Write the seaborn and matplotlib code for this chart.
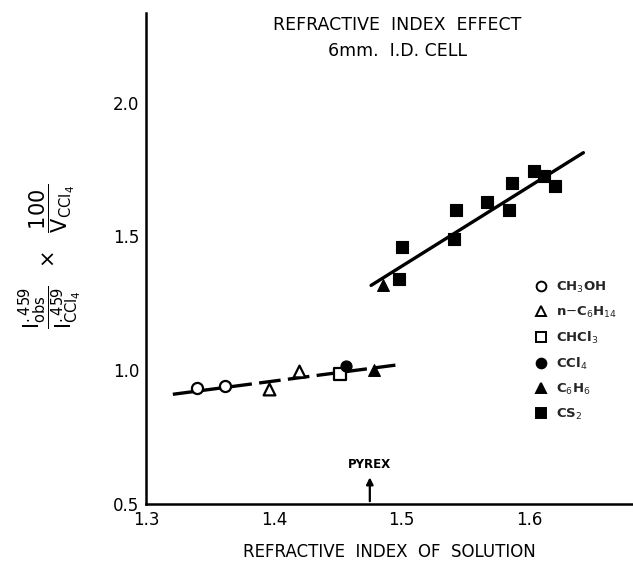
import matplotlib
matplotlib.use("Agg")
import matplotlib.pyplot as plt
import seaborn as sns
import pandas as pd
from matplotlib.lines import Line2D

# ---- data ----
ch3oh_x = [1.340, 1.362]
ch3oh_y = [0.933, 0.940]
hexane_x = [1.396, 1.420]
hexane_y = [0.930, 0.996]
chcl3_x = [1.452]
chcl3_y = [0.985]
ccl4_x = [1.456]
ccl4_y = [1.015]
benzene_x = [1.478, 1.485]
benzene_y = [1.000, 1.320]
cs2_x = [1.500, 1.498, 1.541, 1.542, 1.567, 1.584, 1.586, 1.603, 1.611, 1.620]
cs2_y = [1.459, 1.340, 1.490, 1.597, 1.630, 1.597, 1.698, 1.746, 1.724, 1.687]

low_fit_x = [1.321, 1.495]
low_fit_y = [0.910, 1.019]
high_fit_x = [1.476, 1.642]
high_fit_y = [1.317, 1.813]

pyrex_x = 1.475
x_ticks = [1.3, 1.4, 1.5, 1.6]
x_ticklabels = ["1.3", "1.4", "1.5", "1.6"]
y_ticks = [0.5, 1.0, 1.5, 2.0]
y_ticklabels = ["0.5", "1.0", "1.5", "2.0"]

series = [
    (r"CH$_3$OH", ch3oh_x, ch3oh_y, "o", False),
    (r"n$-$C$_6$H$_{14}$", hexane_x, hexane_y, "^", False),
    (r"CHCl$_3$", chcl3_x, chcl3_y, "s", False),
    (r"CCl$_4$", ccl4_x, ccl4_y, "o", True),
    (r"C$_6$H$_6$", benzene_x, benzene_y, "^", True),
    (r"CS$_2$", cs2_x, cs2_y, "s", True),
]

sns.set_theme(style="white")
plt.rcParams["font.family"] = ["DejaVu Sans"]
plt.rcParams["mathtext.fontset"] = "dejavusans"

fig = plt.figure(figsize=(6.33, 5.61), dpi=100)
ax = fig.add_axes([146 / 633, 1 - 504 / 561, (632 - 146) / 633, (504 - 13) / 561])

# fit lines
sns.lineplot(x=low_fit_x, y=low_fit_y, ax=ax, color="black", lw=2.4,
             dashes=False, linestyle=(0, (6.5, 2.2)))
sns.lineplot(x=high_fit_x, y=high_fit_y, ax=ax, color="black", lw=2.4)

handles = []
for label, xs, ys, mk, filled in series:
    df = pd.DataFrame({"x": xs, "y": ys})
    ms = 64 if mk != "^" else 72
    if filled:
        sns.scatterplot(data=df, x="x", y="y", ax=ax, marker=mk, s=ms,
                        color="black", edgecolor="black", linewidth=0.8, zorder=4)
    else:
        sns.scatterplot(data=df, x="x", y="y", ax=ax, marker=mk, s=ms,
                        facecolor="white", edgecolor="black", linewidth=1.6, zorder=4)
    handles.append(Line2D([], [], marker=mk, linestyle="none", markersize=7,
                          markerfacecolor="black" if filled else "white",
                          markeredgecolor="black", markeredgewidth=1.4, label=label))

leg = ax.legend(handles=handles, loc="upper left", frameon=False,
                bbox_to_anchor=(524 / 633, 1 - 268 / 561), bbox_transform=fig.transFigure,
                handlelength=0.8, handletextpad=0.7, labelspacing=0.75,
                prop={"weight": "bold", "size": 9.5})

ax.set_xlim(1.3, 1.68)
ax.set_ylim(0.5, 2.335)
ax.set_xticks(x_ticks)
ax.set_xticklabels(x_ticklabels)
ax.set_yticks(y_ticks)
ax.set_yticklabels(y_ticklabels)
ax.tick_params(direction="in", length=13, width=1.5, labelsize=12, color="black",
               labelcolor="black", pad=5)
for side in ["top", "right"]:
    ax.spines[side].set_visible(False)
for side in ["left", "bottom"]:
    ax.spines[side].set_color("black")
    ax.spines[side].set_linewidth(1.8)

ax.set_xlabel("REFRACTIVE  INDEX  OF  SOLUTION", fontsize=12, color="black", labelpad=10)
ax.set_ylabel("")

# PYREX marker
ax.annotate("", xy=(pyrex_x, 0.61), xytext=(pyrex_x, 0.5),
            arrowprops=dict(arrowstyle="-|>", color="black", lw=1.6, mutation_scale=10))
ax.text(pyrex_x, 0.625, "PYREX", ha="center", va="bottom", fontsize=8.5,
        fontweight="bold", color="black")

fig.text(397 / 633, 1 - 38 / 561, "REFRACTIVE  INDEX  EFFECT\n6mm.  I.D. CELL",
         ha="center", va="center", fontsize=12.5, color="black", linespacing=1.6)

fig.text(50 / 633, 1 - 256 / 561,
         r"$\dfrac{\mathrm{I}_{\mathrm{obs}}^{\mathrm{.459}}}{\mathrm{I}_{\mathrm{CCl_4}}^{\mathrm{.459}}}"
         r"\ \ \times\ \ \dfrac{\mathrm{100}}{\mathrm{V}_{\mathrm{CCl_4}}}$",
         rotation=90, ha="center", va="center", fontsize=15, color="black")

fig.savefig("out.png", dpi=100)
